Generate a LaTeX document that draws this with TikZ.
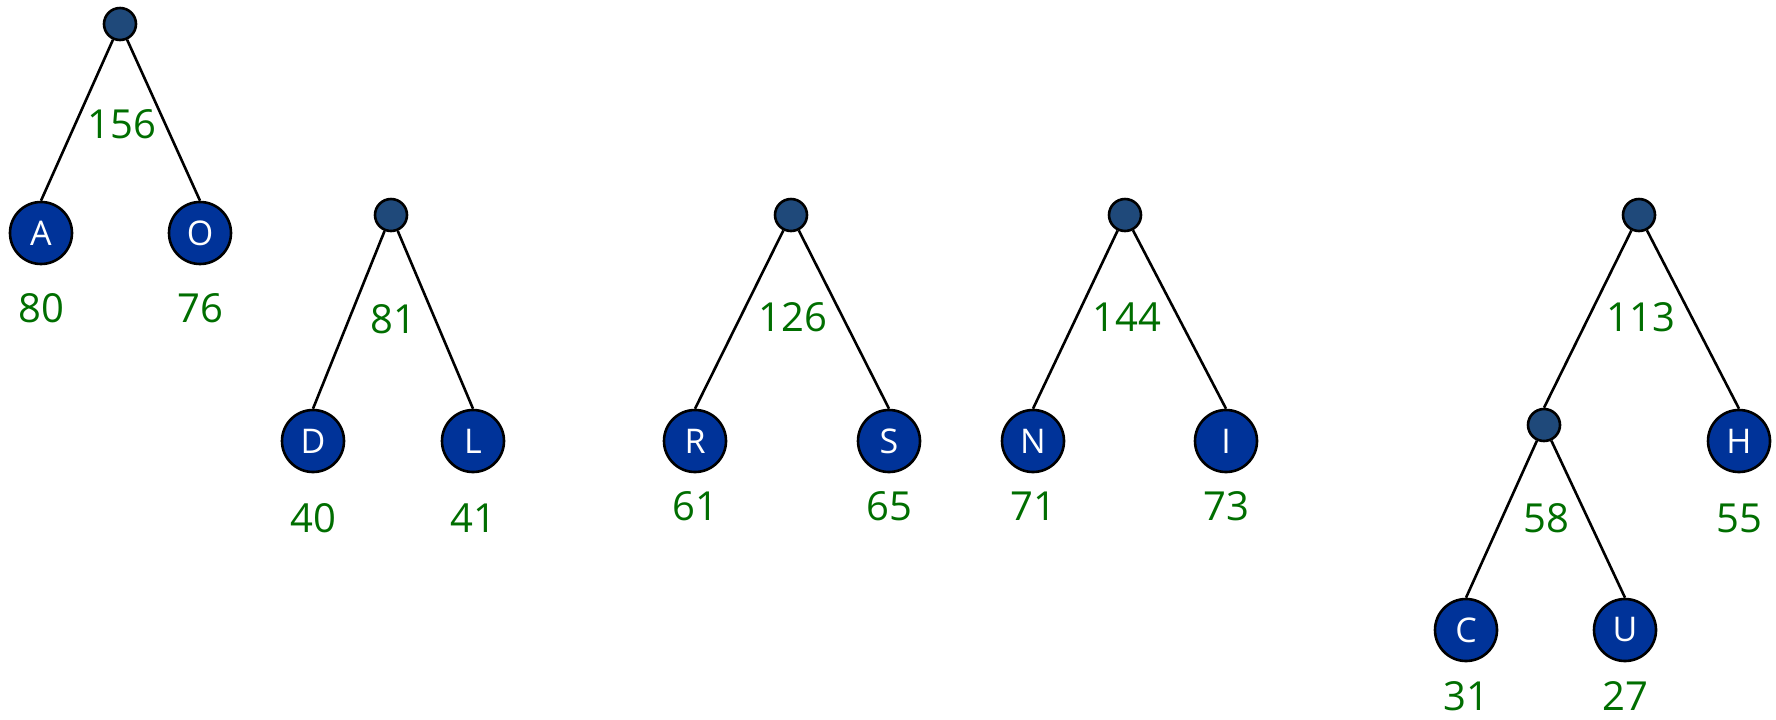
\documentclass[tikz,border=0pt]{standalone}
\usepackage{fontspec}
\setmainfont{Open Sans}
\definecolor{leafblue}{RGB}{0,51,153}
\definecolor{jointblue}{RGB}{31,73,122}
\definecolor{weightgreen}{RGB}{0,110,0}
\begin{document}
\begin{tikzpicture}[x=0.5pt,y=-0.5pt,
    leaf/.style={circle,draw,line width=1.3pt,fill=leafblue,text=white,
      minimum size=31pt,inner sep=0pt,font=\fontsize{17}{17}\selectfont},
    joint/.style={circle,draw,line width=1.3pt,fill=jointblue,minimum size=16pt,inner sep=0pt},
    weight/.style={text=weightgreen,inner sep=0pt,font=\fontsize{20}{20}\selectfont},
    edge/.style={line width=1.3pt}]
  \useasboundingbox (0,0) rectangle (1776,719);

  % Internal nodes with their weights
  \foreach \name/\x/\y/\dy in {t1/120/24/100, t2/391/215/104, t3/791/215/102,
                               t4/1125/215/102, t5/1639/215/102, t6/1544/425/93} {
    \node[joint] (\name) at (\x,\y) {};
  }
  \foreach \name/\w/\dy in {t1/156/100, t2/81/104, t3/126/102, t4/144/102, t5/113/102, t6/58/93} {
    \node[weight] (\name w) at ([xshift=1pt,yshift=-\dy*0.5pt]\name.center) {\w};
  }

  % Leaves, then their frequencies
  \foreach \name/\letter/\x/\y in {a/A/41/233, o/O/200/233, d/D/313/441, l/L/473/441,
                                   r/R/695/441, s/S/889/441, n/N/1033/441, i/I/1226/441,
                                   h/H/1739/441, c/C/1466/630, u/U/1625/630} {
    \node[leaf] (\name) at (\x,\y) {\letter};
  }
  \foreach \name/\w/\dy in {a/80/75, o/76/75, d/40/77, l/41/77, r/61/65, s/65/65,
                            n/71/65, i/73/65, h/55/77, c/31/66, u/27/66} {
    \node[weight] (\name w) at ([yshift=-\dy*0.5pt]\name.center) {\w};
  }

  % Edges down to the top of each child
  \foreach \p/\c in {t1/a, t1/o, t2/d, t2/l, t3/r, t3/s, t4/n, t4/i, t5/t6, t5/h, t6/c, t6/u} {
    \draw[edge] (\p) -- (\c.north);
  }
\end{tikzpicture}
\end{document}
